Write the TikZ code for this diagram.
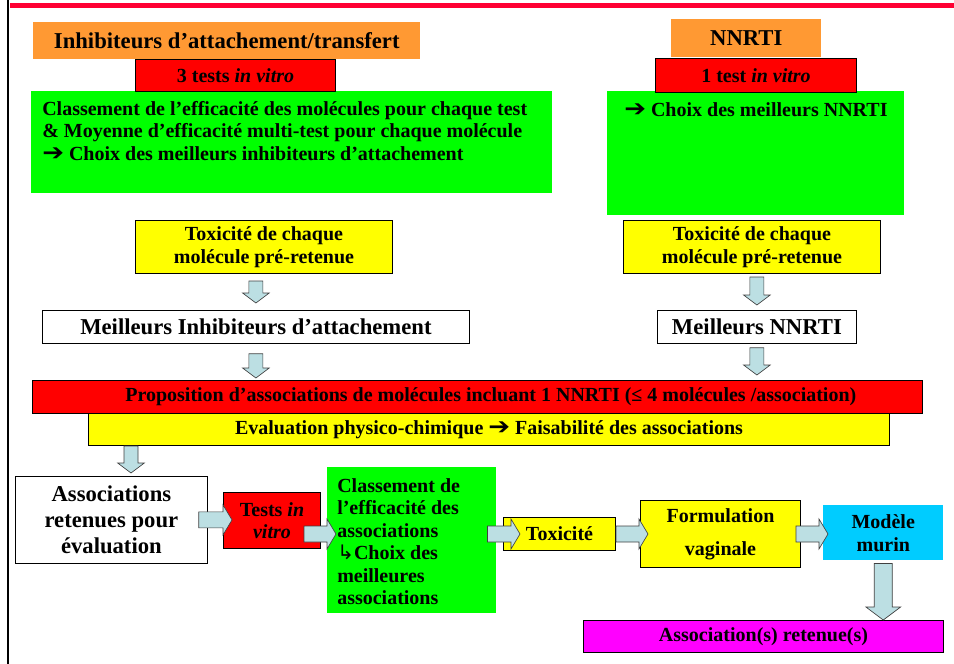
\documentclass[tikz,border=0pt]{standalone}
\usepackage{fontspec}
\usepackage{graphicx}
\setmainfont{Liberation Serif}
\newfontfamily\symfont{DejaVu Sans}
\usetikzlibrary{calc}
\definecolor{slidered}{HTML}{FF0033}
\definecolor{headorange}{HTML}{FF9933}
\definecolor{testred}{HTML}{FF0000}
\definecolor{effgreen}{HTML}{00FF00}
\definecolor{toxyellow}{HTML}{FFFF00}
\definecolor{mousecyan}{HTML}{00CCFF}
\definecolor{finalmagenta}{HTML}{FF00FF}
\definecolor{arrowblue}{HTML}{BCDFE3}
\definecolor{arrowedge}{HTML}{404040}
\newcommand{\bigfont}{\bfseries\fontsize{17pt}{19.5pt}\selectfont}
\newcommand{\midfont}{\bfseries\fontsize{15pt}{16.9pt}\selectfont}
\newcommand{\goarrow}{\scalebox{1.3}[1.15]{\symfont\mdseries ➔}}
\newcommand{\hookarrow}{{\symfont\mdseries ↳}}
% sizes of the block arrows
\newcommand{\vshaft}{5.25pt}
\newcommand{\vhead}{10pt}
\newcommand{\vheadlen}{7.5pt}
\newcommand{\hshaft}{6pt}
\newcommand{\hhead}{11.25pt}
\newcommand{\hheadlen}{6.75pt}
% downward block arrow: x of #1, from #1 (less #3) to #2 (plus #4)
\newcommand{\vblock}[4]{%
  \draw[blockarrow] let \p1=(#1), \p2=(#2) in
    ({\x1-\vshaft},{\y1-#3}) -- ({\x1+\vshaft},{\y1-#3})
    -- ({\x1+\vshaft},{\y2+#4+\vheadlen}) -- ({\x1+\vhead},{\y2+#4+\vheadlen})
    -- (\x1,{\y2+#4}) -- ({\x1-\vhead},{\y2+#4+\vheadlen})
    -- ({\x1-\vshaft},{\y2+#4+\vheadlen}) -- cycle;}
% rightward block arrow: y of #1, from #1 (less #3) to #2 (plus #4)
\newcommand{\hblock}[4]{%
  \draw[blockarrow] let \p1=(#1), \p2=(#2) in
    ({\x1-#3},{\y1+\hshaft}) -- ({\x2+#4-\hheadlen},{\y1+\hshaft})
    -- ({\x2+#4-\hheadlen},{\y1+\hhead}) -- ({\x2+#4},\y1)
    -- ({\x2+#4-\hheadlen},{\y1-\hhead}) -- ({\x2+#4-\hheadlen},{\y1-\hshaft})
    -- ({\x1-#3},{\y1-\hshaft}) -- cycle;}

\begin{document}
\begin{tikzpicture}[
  x=0.75pt,
  y=-0.75pt,
  panel/.style={inner sep=0pt, anchor=north west, align=center},
  headbox/.style={panel, fill=headorange, font=\bigfont},
  testbox/.style={panel, fill=testred, draw=black, line width=0.75pt, font=\midfont},
  effbox/.style={panel, fill=effgreen},
  efftext/.style={inner sep=0pt, anchor=north west, align=left, font=\midfont},
  toxbox/.style={panel, fill=toxyellow, draw=black, line width=0.75pt, font=\midfont},
  resultbox/.style={panel, fill=white, draw=black, line width=0.6pt, font=\bigfont},
  mousebox/.style={panel, fill=mousecyan, font=\midfont},
  finalbox/.style={panel, fill=finalmagenta, draw=black, line width=0.75pt, font=\midfont},
  blockarrow/.style={fill=arrowblue, draw=arrowedge, line width=0.5pt, line join=miter}
]
  \useasboundingbox (0,0) rectangle (954,664);

  % ---- slide frame ----
  \draw[slidered, line width=3.75pt] (10,5.5) -- (954,5.5);
  \draw[black, line width=1.5pt] (8,0) -- (8,664);

  % ---- left column: attachment inhibitors ----
  \node[effbox, minimum width=390.75pt, minimum height=76.5pt] (class1) at (31,91) {};
  \node[efftext] (class1text) at (42,101)
    {Classement de l’efficacité des molécules pour chaque test\\
     \& Moyenne d’efficacité multi-test pour chaque molécule\\
     \goarrow\ Choix des meilleurs inhibiteurs d’attachement};
  \node[testbox, minimum width=150pt, minimum height=24pt] (tests1) at (135,59)
    {3 tests \textit{in vitro}};
  \node[headbox, minimum width=290.25pt, minimum height=27.75pt] (inhib) at (33,22)
    {Inhibiteurs d’attachement/transfert};
  \node[toxbox, minimum width=192.75pt, minimum height=39.75pt,
        font=\bfseries\fontsize{15pt}{17.25pt}\selectfont] (tox1) at (135,220)
    {Toxicité de chaque\\molécule pré-retenue};
  \node[resultbox, minimum width=320.25pt, minimum height=24.75pt] (best1) at (42,310)
    {Meilleurs Inhibiteurs d’attachement};

  % ---- right column: NNRTI ----
  \node[effbox, minimum width=222.75pt, minimum height=93pt] (choice2) at (607,91) {};
  \node[efftext] (choice2text) at (624,102) {\goarrow\ Choix des meilleurs NNRTI};
  \node[testbox, minimum width=150.75pt, minimum height=25.5pt] (tests2) at (655,58)
    {1 test \textit{in vitro}};
  \node[headbox, minimum width=112.5pt, minimum height=28.5pt] (nnrti) at (671,19) {NNRTI};
  \node[toxbox, minimum width=192.75pt, minimum height=39.75pt,
        font=\bfseries\fontsize{15pt}{17.25pt}\selectfont] (tox2) at (623,220)
    {Toxicité de chaque\\molécule pré-retenue};
  \node[resultbox, minimum width=149.25pt, minimum height=24.75pt] (best2) at (657,310)
    {Meilleurs NNRTI};

  % ---- combinations ----
  \node[testbox, minimum width=667.5pt, minimum height=24.75pt] (propose) at (32,380)
    {\hspace*{20pt}Proposition d’associations de molécules incluant 1 NNRTI (≤ 4 molécules /association)};
  \node[toxbox, minimum width=600.75pt, minimum height=24pt] (evalphys) at (88,413)
    {Evaluation physico-chimique \goarrow\ Faisabilité des associations};
  \coordinate (evaldrop) at ([xshift=32.25pt]evalphys.south west);

  % ---- bottom chain ----
  \node[resultbox, minimum width=144pt, minimum height=65.25pt] (assoc) at (15,476)
    {Associations\\retenues pour\\évaluation};
  \node[testbox, minimum width=72.75pt, minimum height=42pt,
        font=\bfseries\fontsize{15pt}{16.5pt}\selectfont] (testsv) at (223,492)
    {Tests \textit{in}\\\textit{vitro}};
  \node[effbox, minimum width=126.75pt, minimum height=109.5pt] (class2) at (327,467) {};
  \node[efftext] (class2text) at (337,478)
    {Classement de\\l’efficacité des\\associations\\\hookarrow Choix des\\meilleures\\associations};
  \node[toxbox, minimum width=84pt, minimum height=24.75pt] (toxic) at (503,517) {Toxicité};
  \node[toxbox, minimum width=120pt, minimum height=50.25pt,
        font=\bfseries\fontsize{15pt}{24.75pt}\selectfont] (formul) at (640,500)
    {Formulation\\vaginale};
  \node[mousebox, minimum width=90pt, minimum height=41.25pt,
        font=\bfseries\fontsize{15pt}{17.25pt}\selectfont] (model) at (823,505)
    {Modèle\\murin};
  \node[finalbox, minimum width=270pt, minimum height=24pt] (retained) at (583,620)
    {Association(s) retenue(s)};

  % ---- block arrows ----
  \vblock{tox1.south -| best1.north}{best1.north}{5.25pt}{5.25pt}
  \vblock{tox2.south -| best2.north}{best2.north}{2.25pt}{3.75pt}
  \vblock{best1.south}{propose.north}{7.5pt}{1.5pt}
  \vblock{best2.south}{propose.north}{3pt}{3.75pt}
  \vblock{evaldrop}{assoc.north}{0pt}{2.25pt}
  \hblock{assoc.east}{testsv.west}{6.75pt}{6.75pt}
  \hblock{testsv.east |- toxic.west}{class2.west}{12.75pt}{6.75pt}
  \hblock{class2.east |- toxic.west}{toxic.west}{6.75pt}{12.75pt}
  \hblock{toxic.east}{formul.west}{0pt}{6pt}
  \hblock{formul.east}{model.west}{3.75pt}{3.75pt}
  {\renewcommand{\vshaft}{6.75pt}\renewcommand{\vhead}{13pt}\renewcommand{\vheadlen}{9.75pt}%
   \vblock{model.south}{retained.north}{2.25pt}{0pt}}
\end{tikzpicture}
\end{document}
